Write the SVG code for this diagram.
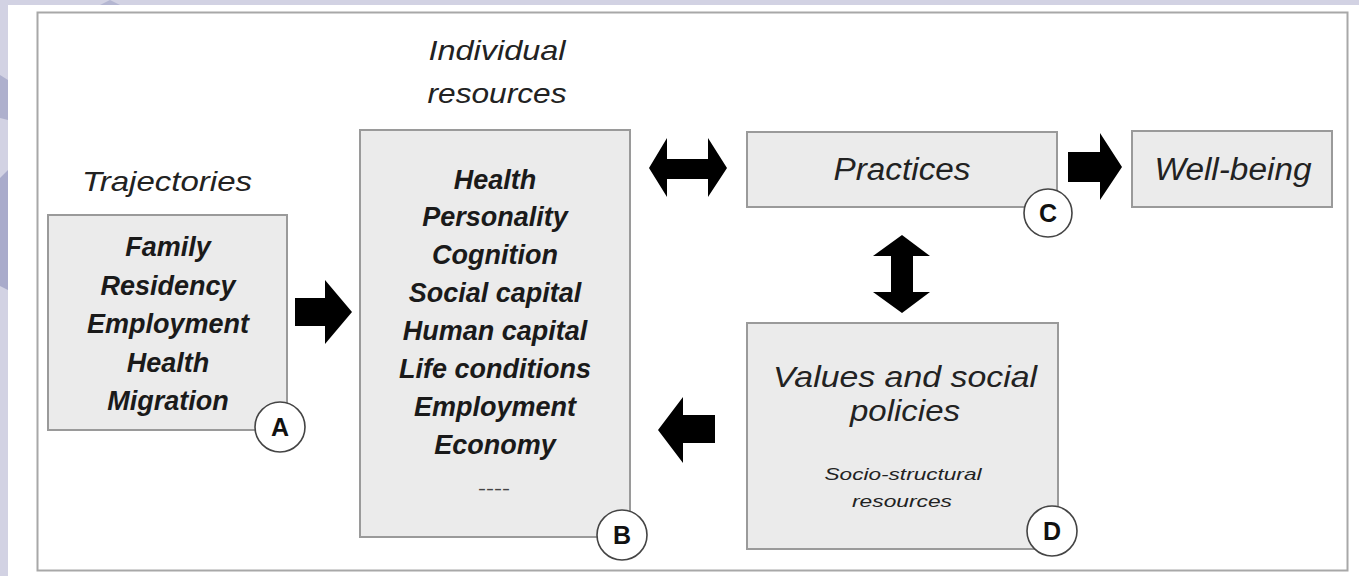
<svg xmlns="http://www.w3.org/2000/svg" width="1359" height="576" viewBox="0 0 1359 576">
  <style>
    .box { fill: #ebebeb; stroke: #9a9a9a; stroke-width: 2; }
    .badge { fill: #ffffff; stroke: #444; stroke-width: 1.6; }
    .badgeText { font-family: "Liberation Sans", Arial, sans-serif; font-weight: bold; font-size: 25px; fill: #111; text-anchor: middle; }
    .bi { font-family: "Liberation Sans", Arial, sans-serif; font-weight: bold; font-style: italic; font-size: 27px; fill: #1a1a1a; text-anchor: middle; }
    .it { font-family: "Liberation Sans", Arial, sans-serif; font-style: italic; fill: #222; text-anchor: middle; }
    .arrow { fill: #000; }
  </style>
  <!-- background -->
  <rect x="0" y="0" width="1359" height="576" fill="#d2d2e3"/>
  <polygon points="0,75 8,80 8,120 0,118" fill="#aeb0cd"/>
  <polygon points="0,178 8,170 8,290 0,286" fill="#a9abcb"/>
  <polygon points="100,5 110,0 120,5" fill="#b4b6d1"/>
  <rect x="8" y="5" width="1351" height="571" fill="#ffffff"/>
  <rect x="37.5" y="12.5" width="1310" height="558" fill="#ffffff" stroke="#a8a8a8" stroke-width="2"/>

  <!-- headings -->
  <text class="it" x="167" y="191" font-size="28" textLength="170" lengthAdjust="spacingAndGlyphs">Trajectories</text>
  <text class="it" x="497" y="60" font-size="28" textLength="137" lengthAdjust="spacingAndGlyphs">Individual</text>
  <text class="it" x="497" y="103" font-size="28" textLength="139" lengthAdjust="spacingAndGlyphs">resources</text>

  <g id="connectors">
    <polygon class="arrow" points="295,298 325,298 325,280 352,312 325,344 325,326 295,326"/>
    <polygon class="arrow" points="715,415 683,415 683,397 658,430 683,463 683,443 715,443"/>
    <polygon class="arrow" points="649,168 667,138 667,159 708,159 708,138 727,168 708,197 708,179 667,179 667,197"/>
    <polygon class="arrow" points="902,235 930,256 913,256 913,292 930,292 902,313 873,292 891,292 891,256 873,256"/>
    <polygon class="arrow" points="1068,152 1100,152 1100,133 1122,167 1100,200 1100,182 1068,182"/>
  </g>

  <g id="nodeA">
    <rect class="box" x="48" y="215" width="239" height="215"/>
    <text class="bi" x="168" y="256">Family</text>
    <text class="bi" x="168" y="295">Residency</text>
    <text class="bi" x="168" y="333">Employment</text>
    <text class="bi" x="168" y="372">Health</text>
    <text class="bi" x="168" y="410">Migration</text>
    <circle class="badge" cx="280" cy="427" r="25"/>
    <text class="badgeText" x="280" y="436">A</text>
  </g>

  <g id="nodeB">
    <rect class="box" x="360" y="130" width="270" height="407"/>
    <text class="bi" x="495" y="189">Health</text>
    <text class="bi" x="495" y="226">Personality</text>
    <text class="bi" x="495" y="264">Cognition</text>
    <text class="bi" x="495" y="302">Social capital</text>
    <text class="bi" x="495" y="340">Human capital</text>
    <text class="bi" x="495" y="378">Life conditions</text>
    <text class="bi" x="495" y="416">Employment</text>
    <text class="bi" x="495" y="454">Economy</text>
    <text x="494" y="495" font-family="Liberation Sans, Arial, sans-serif" font-size="18" fill="#444" text-anchor="middle" textLength="32" lengthAdjust="spacingAndGlyphs">----</text>
    <circle class="badge" cx="622" cy="535" r="25"/>
    <text class="badgeText" x="622" y="544">B</text>
  </g>

  <g id="nodeC">
    <rect class="box" x="747" y="132" width="310" height="75"/>
    <text class="it" x="902" y="180" font-size="31" textLength="137" lengthAdjust="spacingAndGlyphs">Practices</text>
    <circle class="badge" cx="1048" cy="213" r="24"/>
    <text class="badgeText" x="1048" y="222">C</text>
  </g>

  <g id="nodeWellbeing">
    <rect class="box" x="1132" y="131" width="200" height="76"/>
    <text class="it" x="1233" y="180" font-size="31" textLength="157" lengthAdjust="spacingAndGlyphs">Well-being</text>
  </g>

  <g id="nodeD">
    <rect class="box" x="747" y="323" width="311" height="226"/>
    <text class="it" x="905" y="387" font-size="30" textLength="264" lengthAdjust="spacingAndGlyphs">Values and social</text>
    <text class="it" x="905" y="421" font-size="30" textLength="110" lengthAdjust="spacingAndGlyphs">policies</text>
    <text class="it" x="903" y="480" font-size="17" textLength="157" lengthAdjust="spacingAndGlyphs">Socio-structural</text>
    <text class="it" x="902" y="507" font-size="17" textLength="100" lengthAdjust="spacingAndGlyphs">resources</text>
    <circle class="badge" cx="1052" cy="531" r="25"/>
    <text class="badgeText" x="1052" y="540">D</text>
  </g>
</svg>
